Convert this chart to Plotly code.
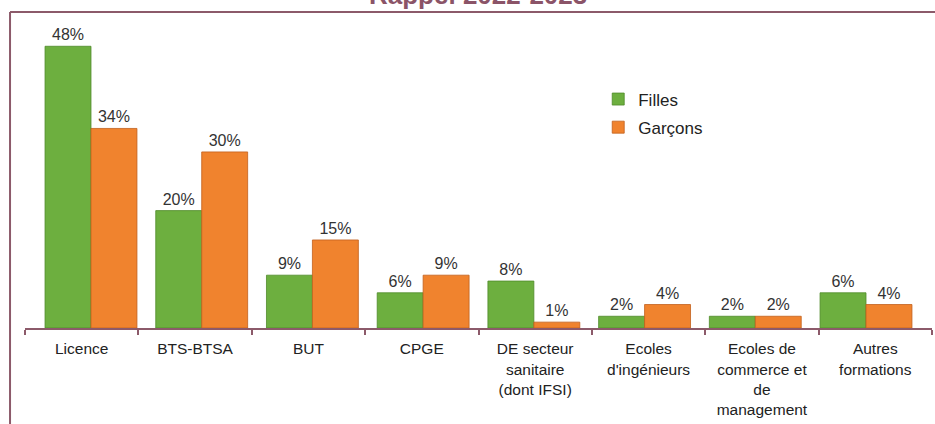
import plotly.graph_objects as go

categories = ['Licence', 'BTS-BTSA', 'BUT', 'CPGE', 'DE secteur<br>sanitaire<br>(dont IFSI)',
              'Ecoles<br>d\'ingénieurs', 'Ecoles de<br>commerce et<br>de<br>management', 'Autres<br>formations']
filles = [48, 20, 9, 6, 8, 2, 2, 6]
garcons = [34, 30, 15, 9, 1, 4, 2, 4]

green = '#6DAF3F'
orange = '#F0832E'
frame = '#8C5A6A'
font = 'Liberation Sans, Arial, sans-serif'
n = len(categories)

fig = go.Figure()
fig.add_trace(go.Bar(x=categories, y=filles, name='Filles', marker_color=green,
                     marker_line=dict(color='#4F8A2A', width=0.8),
                     text=[str(v) + '%' for v in filles], textposition='outside',
                     textfont=dict(size=16, color='#333333'), cliponaxis=False,
                     legendgroup='f'))
fig.add_trace(go.Bar(x=categories, y=garcons, name='Garçons', marker_color=orange,
                     marker_line=dict(color='#C25F1C', width=0.8),
                     text=[str(v) + '%' for v in garcons], textposition='outside',
                     textfont=dict(size=16, color='#333333'), cliponaxis=False,
                     legendgroup='g'))
# invisible helper so the labelled category axis gets drawn
fig.add_trace(go.Scatter(x=list(range(n)), y=[0] * n, xaxis='x2', mode='markers',
                         marker=dict(opacity=0), hoverinfo='skip', showlegend=False))

fig.update_layout(
    width=935, height=424,
    margin=dict(l=25, r=3, t=14, b=96),
    paper_bgcolor='white', plot_bgcolor='white',
    font=dict(family=font, size=16, color='#222222'),
    barmode='group', bargap=0.17, bargroupgap=0,
    showlegend=True,
    legend=dict(x=0.632, y=0.785, xanchor='left', yanchor='top', bgcolor='rgba(0,0,0,0)',
                font=dict(size=17, color='#222222'), traceorder='grouped', tracegroupgap=3,
                itemwidth=30),
    # bars sit on a hidden axis, slightly compressed like the 3D chart
    xaxis=dict(type='category', range=[-0.596, n - 1 + 0.596], visible=False),
    xaxis2=dict(overlaying='x', anchor='y', side='bottom', type='linear',
                range=[-0.5, n - 0.5], tickvals=list(range(n)), ticktext=categories,
                ticks='', showline=True, linecolor=frame, linewidth=1.5,
                showgrid=False, zeroline=False, ticklabelstandoff=6,
                tickfont=dict(size=15.5, color='#222222'),
                minor=dict(tickvals=[i - 0.5 for i in range(n + 1)], ticks='outside',
                           ticklen=5, tickcolor=frame, tickwidth=1.5, showgrid=False)),
    yaxis=dict(range=[0, 53.5], visible=False),
)

# frame around the chart
fig.add_shape(type='line', xref='paper', yref='paper', x0=-0.0165, x1=1.01, y0=1.0064, y1=1.0064,
              line=dict(color=frame, width=2))
fig.add_shape(type='line', xref='paper', yref='paper', x0=-0.0165, x1=-0.0165, y0=1.0064, y1=-0.32,
              line=dict(color=frame, width=2))

fig.add_annotation(text='<b>Rappel 2022-2023</b>', xref='paper', yref='paper',
                   x=(478 - 25) / 907, y=1.006, xanchor='center', yanchor='bottom',
                   showarrow=False, font=dict(family=font, size=26, color='#8B5468'))

fig.write_html('out.html', config={'displayModeBar': False},
               post_script="document.body.style.margin='0';")
